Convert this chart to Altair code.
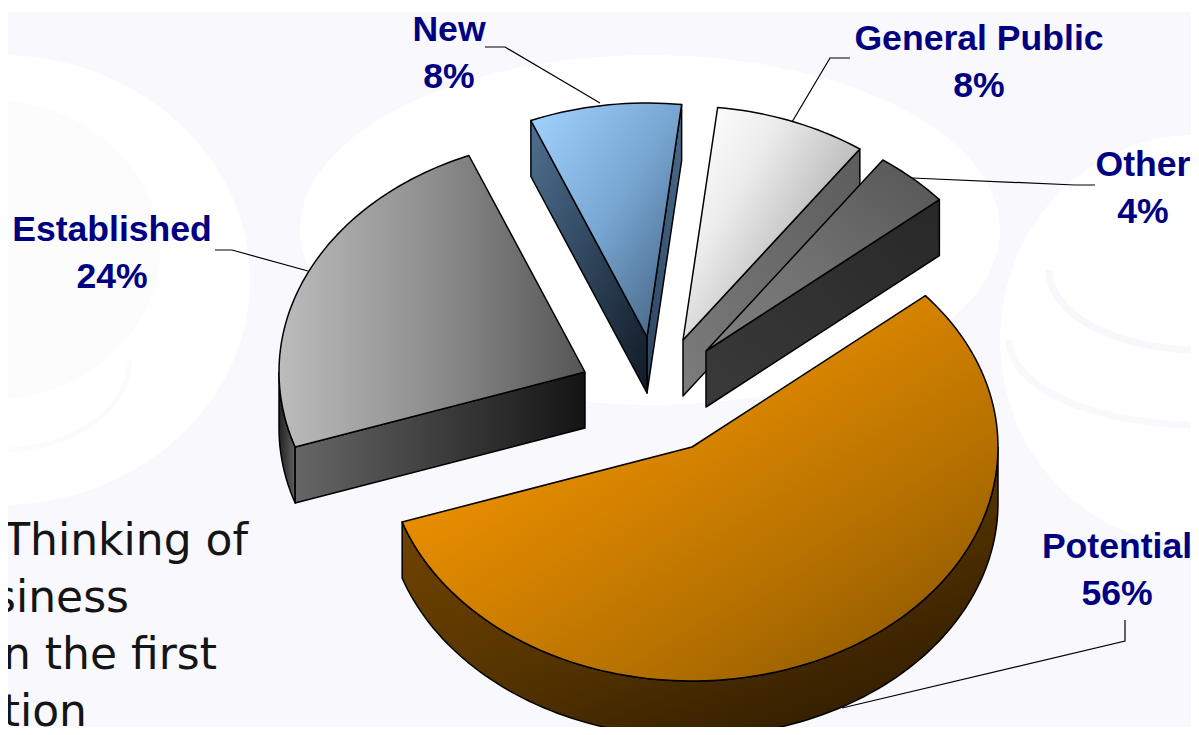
import math
import altair as alt
import pandas as pd

# ---- chart values ----
segments = ["Potential", "Established", "New", "General Public", "Other"]
shares = [56, 24, 8, 8, 4]
start_angle = -40.3          # degrees, clockwise on the squashed ellipse

# ---- layout (image pixels) ----
W, H, M = 1199, 735, 8
RIGHT, BOTTOM = W - M, H - M  # the page keeps an 8px margin round the chart
RX, RY, DEPTH = 306, 234, 56
apex = {"Potential": (692, 447), "Established": (585, 372), "New": (647, 337),
        "General Public": (683, 340), "Other": (706, 351)}
label_pos = {"Potential": (1117, 558), "Established": (112, 241), "New": (449, 41),
             "General Public": (979, 50), "Other": (1143, 176)}
leaders = [[(485, 47), (505, 47), (600, 103)],
           [(850, 58), (830, 58), (792, 122)],
           [(1095, 185), (1075, 185), (912, 178)],
           [(215, 250), (232, 250), (308, 271)],
           [(1125, 620), (1125, 641), (842, 708)]]
body_lines = ["Thinking of", "siness", "n the first", "tion"]
body_right = [248, 129, 217, 87]
body_base = [555, 612, 669, 726]

NAVY = "#000080"
BG = "#f8f8fd"

X = alt.X("x:Q", scale=alt.Scale(domain=[M, RIGHT], nice=False, zero=False), axis=None)
Y = alt.Y("y:Q", scale=alt.Scale(domain=[BOTTOM, M], nice=False, zero=False), axis=None)


def grad(stops, x1=0, y1=0, x2=1, y2=1):
    n = len(stops) - 1
    return alt.Gradient(
        gradient="linear", x1=x1, y1=y1, x2=x2, y2=y2,
        stops=[alt.GradientStop(offset=i / n, color=c) for i, c in enumerate(stops)],
    )


def poly(points, fill, stroke="#000000", width=1.5, opacity=1.0):
    pts = list(points) + [points[0]]
    df = pd.DataFrame([{"x": p[0], "y": p[1], "i": i} for i, p in enumerate(pts)])
    kw = dict(fill=fill, clip=True, opacity=opacity, interpolate="linear")
    if stroke is None:
        kw.update(strokeOpacity=0, strokeWidth=0)
    else:
        kw.update(stroke=stroke, strokeWidth=width, strokeJoin="round")
    return alt.Chart(df).mark_line(**kw).encode(x=X, y=Y, order=alt.Order("i:Q"))


def path(points, color, width):
    df = pd.DataFrame([{"x": p[0], "y": p[1], "i": i} for i, p in enumerate(points)])
    return alt.Chart(df).mark_line(color=color, strokeWidth=width, clip=True).encode(
        x=X, y=Y, order=alt.Order("i:Q"))


def ell(cx, cy, rx, ry, a0=0, a1=360, n=120):
    return [(cx + rx * math.cos(math.radians(a0 + (a1 - a0) * k / n)),
             cy + ry * math.sin(math.radians(a0 + (a1 - a0) * k / n))) for k in range(n + 1)]


layers = []

# ---- pale page background with the white watermark swirls ----
layers.append(poly([(M, 12), (W, 12), (W, H), (M, H)], BG, None))
for cx, cy, rx, ry, col in [
    (650, 230, 350, 175, "#ffffff"),
    (0, 280, 250, 225, "#ffffff"),
    (1195, 340, 195, 205, "#ffffff"),
]:
    layers.append(poly(ell(cx, cy, rx, ry), col, None))
layers.append(poly(ell(-10, 250, 170, 150), "#fcfcfd", None))
layers.append(path(ell(1199, 270, 150, 80, 90, 180), "#f7f7fc", 7))
layers.append(path(ell(1199, 340, 190, 85, 90, 180), "#f9f9fd", 7))
layers.append(path(ell(0, 360, 130, 90, 0, 90), "#fbfbfd", 5))

# ---- slice styles ----
styles = {
    "Potential": dict(top=grad(["#ee9000", "#d08000", "#b06e00", "#8a5500"], 0.1, 0.4, 0.8, 1.1),
                      wall=grad(["#7a4900", "#5a3700", "#2e1b00"], 0, 0, 0.8, 1)),
    "Established": dict(top=grad(["#bcbcbc", "#8e8e8e", "#555555"], 0, 0, 1, 0),
                        cut=grad(["#666666", "#141414"], 0, 0, 1, 0),
                        wall=grad(["#606060", "#222222"], 1, 0, 0, 0)),
    "New": dict(top=grad(["#a3d3ff", "#78a6d2", "#3f5c7a"], 0, 0, 1, 1),
                cut=grad(["#4f7091", "#101a26"], 0, 0, 1, 1),
                cut2=grad(["#4a6a8a", "#2c4560"], 1, 0, 0, 1)),
    "General Public": dict(top=grad(["#ffffff", "#ececec", "#c4c4c4", "#a0a0a0"], 0.1, 0, 1, 0.7),
                           cut=grad(["#7c7c7c", "#5c5c5c"], 0, 1, 1, 0)),
    "Other": dict(top=grad(["#555555", "#6e6e6e", "#808080"], 1, 0, 0, 1),
                  cut=grad(["#3a3a3a", "#282828"], 0, 1, 1, 0)),
}

# angular extents derived from the shares
extent, a = {}, start_angle
for s, v in zip(segments, shares):
    extent[s] = (a, a + v * 3.6)
    a += v * 3.6


def pt(s, t):
    cx, cy = apex[s]
    return (cx + RX * math.cos(math.radians(t)), cy + RY * math.sin(math.radians(t)))


def arc(s, t0, t1):
    n = max(2, int(abs(t1 - t0) / 1.5))
    return [pt(s, t0 + (t1 - t0) * k / n) for k in range(n + 1)]


def cut_face(s, t):
    c = apex[s]
    p = pt(s, t)
    return [c, p, (p[0], p[1] + DEPTH), (c[0], c[1] + DEPTH)]


def wall_face(s, t0, t1):
    top = arc(s, t0, t1)
    return top + [(x, y + DEPTH) for x, y in reversed(top)]


for s in ["New", "General Public", "Other", "Established", "Potential"]:
    st = styles[s]
    t0, t1 = extent[s]
    if s == "New":
        layers.append(poly(cut_face(s, t1), st["cut2"]))
        layers.append(poly(cut_face(s, t0), st["cut"]))
    if s in ("General Public", "Other"):
        layers.append(poly(cut_face(s, t1), st["cut"]))
    if s == "Established":
        layers.append(poly(wall_face(s, t0, 180), st["wall"]))
        layers.append(poly(cut_face(s, t0), st["cut"]))
    if s == "Potential":
        layers.append(poly(wall_face(s, 0, t1), st["wall"]))
    layers.append(poly([apex[s]] + arc(s, t0, t1), st["top"]))

# ---- leader lines ----
for line in leaders:
    layers.append(path(line, "#000000", 1.2))

# ---- data labels ----
rows = []
for s, v in zip(segments, shares):
    x, y = label_pos[s]
    rows.append({"x": x, "y": y, "t": s})
    rows.append({"x": x, "y": y + 47, "t": f"{v}%"})
layers.append(alt.Chart(pd.DataFrame(rows)).mark_text(
    font="Liberation Sans", fontWeight="bold", fontSize=35.6, color=NAVY,
    align="center", baseline="alphabetic").encode(x=X, y=Y, text="t:N"))

# ---- slide body text running off the left edge ----
body = pd.DataFrame({"x": body_right, "y": body_base, "t": body_lines})
layers.append(alt.Chart(body).mark_text(
    font="DejaVu Sans", fontSize=44, color="#151515",
    align="right", baseline="alphabetic").encode(x=X, y=Y, text="t:N"))

chart = alt.layer(*layers).properties(
    width=RIGHT - M, height=BOTTOM - M,
    padding=0, autosize=alt.AutoSizeParams(type="none"), background="#ffffff",
).configure_view(stroke=None)

chart.save("out.html", embed_options={"renderer": "svg", "actions": False})
